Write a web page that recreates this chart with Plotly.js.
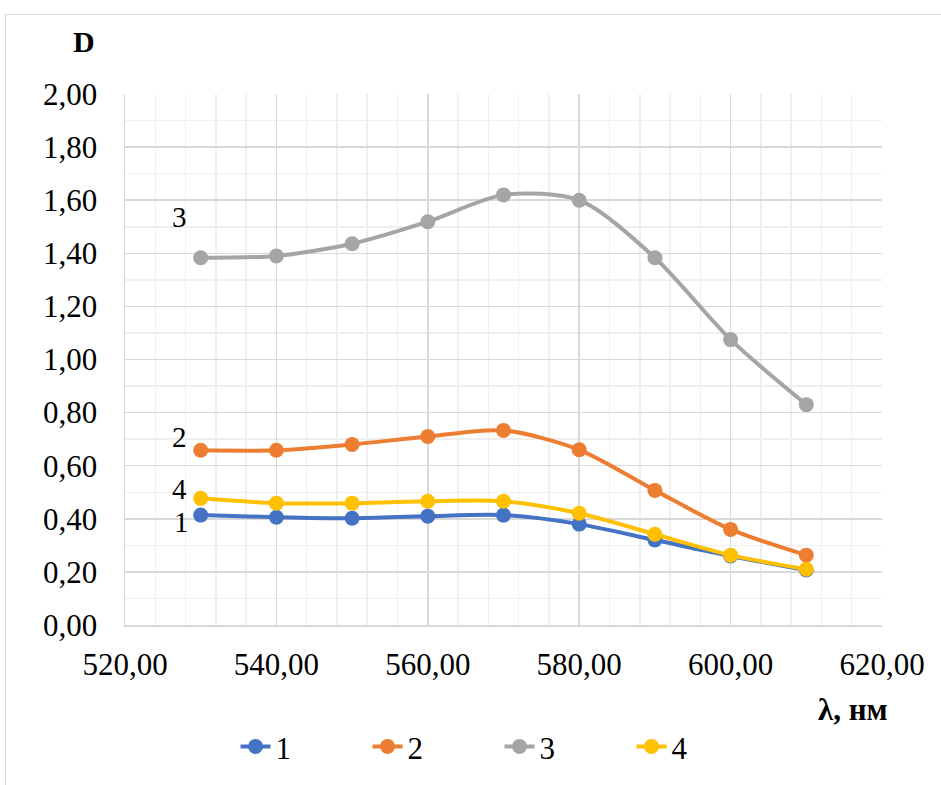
<!DOCTYPE html>
<html><head><meta charset="utf-8">
<script src="https://cdn.plot.ly/plotly-3.0.1.min.js"></script>
<style>
body{margin:0;padding:0;background:#fff;}
#frame{position:absolute;left:5px;top:14px;width:950px;height:790px;border:1px solid #d9d9d9;box-sizing:border-box;}
#chart{position:absolute;left:0;top:0;width:941px;height:785px;}
</style></head>
<body>
<div id="frame"></div>
<div id="chart"></div>
<script>
var wavelengths = [530, 540, 550, 560, 570, 580, 590, 600, 610];
var series1 = [0.414, 0.406, 0.402, 0.410, 0.414, 0.380, 0.320, 0.260, 0.207];
var series2 = [0.658, 0.658, 0.680, 0.710, 0.733, 0.660, 0.507, 0.360, 0.263];
var series3 = [1.383, 1.390, 1.436, 1.519, 1.620, 1.600, 1.383, 1.075, 0.830];
var series4 = [0.477, 0.459, 0.459, 0.466, 0.466, 0.421, 0.342, 0.263, 0.210];
var seriesNames = ["1", "2", "3", "4"];
var colors = ["#4472C4", "#ED7D31", "#A5A5A5", "#FFC000"];
var curveLabels = [{t:"3", x:527.2, y:1.536}, {t:"2", x:527.2, y:0.707}, {t:"4", x:527.2, y:0.513}, {t:"1", x:527.5, y:0.389}];

var all = [series1, series2, series3, series4];
var traces = all.map(function(s, i){
  return {
    x: wavelengths, y: s, name: seriesNames[i], type: 'scatter', mode: 'lines+markers',
    line: {color: colors[i], width: 4, shape: 'spline', smoothing: 0.8},
    marker: {color: colors[i], size: 15}
  };
});
var font = {family: '"Liberation Serif", "Times New Roman", serif', color: '#000'};
var annotations = curveLabels.map(function(c){
  return {x: c.x, y: c.y, xref: 'x', yref: 'y', text: c.t, showarrow: false,
    xanchor: 'center', yanchor: 'middle',
    font: Object.assign({}, font, {size: 29})};
});
annotations.push({xref:'paper', yref:'paper', x:-0.054, y:1.098, xanchor:'center', yanchor:'middle',
  text:'<b>D</b>', showarrow:false, font: Object.assign({}, font, {size: 30})});
annotations.push({xref:'paper', yref:'paper', x:0.962, y:-0.16, xanchor:'center', yanchor:'middle',
  text:'<b>λ, нм</b>', showarrow:false, font: Object.assign({}, font, {size: 31})});

var layout = {
  width: 941, height: 785,
  margin: {l: 125, r: 59, t: 94, b: 159},
  paper_bgcolor: 'rgba(0,0,0,0)', plot_bgcolor: '#fff',
  separators: ', ',
  font: Object.assign({}, font, {size: 30}),
  showlegend: true,
  legend: {orientation: 'h', x: 0.146, y: -0.227, xanchor: 'left', yanchor: 'middle',
    entrywidth: 87, entrywidthmode: 'pixels', font: Object.assign({}, font, {size: 31}), bgcolor: 'rgba(0,0,0,0)'},
  xaxis: {range: [520, 620], dtick: 20, tick0: 520, tickformat: '.2f', showgrid: true, gridcolor: '#d9d9d9', gridwidth: 1.5,
    zeroline: false, showline: true, linecolor: '#d9d9d9', linewidth: 1.5, ticks: '', ticklen: 0, ticklabelstandoff: 11,
    minor: {dtick: 4, showgrid: true, gridcolor: '#efefef', gridwidth: 1.5},
    tickfont: Object.assign({}, font, {size: 31})},
  yaxis: {range: [0, 2], dtick: 0.2, tick0: 0, tickformat: '.2f', showgrid: true, gridcolor: '#d9d9d9', gridwidth: 1.5,
    zeroline: false, showline: true, linecolor: '#d9d9d9', linewidth: 1.5, ticks: '', ticklabelstandoff: 20,
    minor: {dtick: 0.1, showgrid: true, gridcolor: '#efefef', gridwidth: 1.5},
    tickfont: Object.assign({}, font, {size: 31})},
  annotations: annotations
};
Plotly.newPlot('chart', traces, layout, {displayModeBar: false, staticPlot: true});
</script>
</body></html>
